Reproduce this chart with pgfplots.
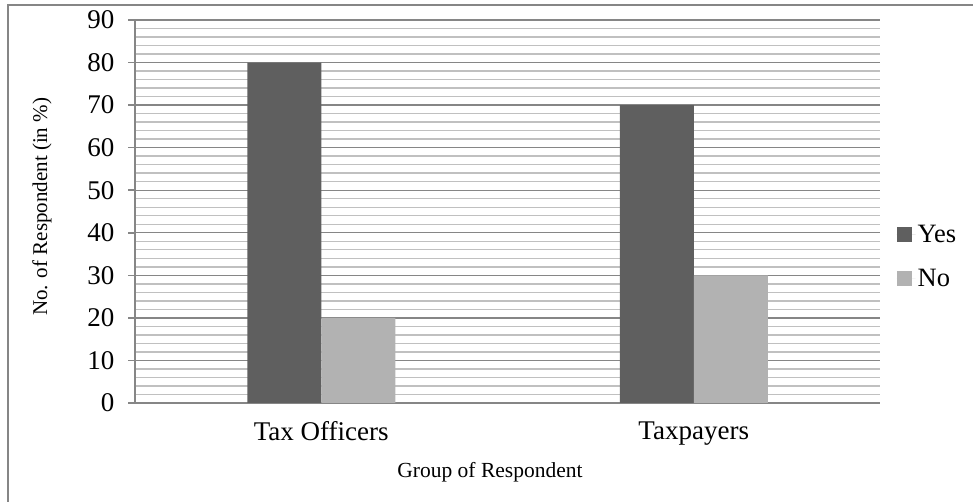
\documentclass[border=0pt]{standalone}
\usepackage{fontspec}
\setmainfont{Liberation Serif}
\usepackage{pgfplots}
\pgfplotsset{compat=1.18}
\definecolor{yescol}{HTML}{5F5F5F}
\definecolor{nocol}{HTML}{B2B2B2}
\definecolor{majgrid}{HTML}{868686}
\definecolor{mingrid}{HTML}{C0C0C0}
\begin{document}
\begin{tikzpicture}
\useasboundingbox (0,0) rectangle (973pt,502pt);
\draw[color=majgrid, line width=2pt] (8pt,0pt) -- (8pt,497pt) -- (973pt,497pt);
\begin{axis}[
  at={(135pt,99pt)}, anchor=south west,
  scale only axis, width=745pt, height=383pt,
  ybar=0pt, bar width=74pt,
  xmin=-0.5, xmax=1.5, ymin=0, ymax=90,
  xtick=data, xticklabels={Tax Officers, Taxpayers},
  ytick={0,10,...,90},
  minor y tick num=4,
  axis x line*=bottom, axis y line*=left,
  axis line style={majgrid, line width=1.5pt, -},
  ymajorgrids, yminorgrids,
  major grid style={majgrid, line width=1.4pt},
  minor grid style={mingrid, line width=1.4pt},
  xtick style={draw=none},
  ytick style={majgrid, line width=1.5pt},
  minor tick style={draw=none},
  tick align=outside, major tick length=7pt,
  /pgf/number format/assume math mode=true,
  tick label style={font=\fontsize{27}{31}\selectfont},
  yticklabel style={xshift=-10pt},
  xticklabel style={yshift=-8pt},
  xlabel={Group of Respondent},
  ylabel={No. of Respondent (in \%)},
  label style={font=\fontsize{21.5}{25}\selectfont},
  xlabel style={at={(axis description cs:0.4765,-0.18)}, anchor=center},
  ylabel style={at={(axis description cs:-0.1248,0.512)}, anchor=center, font=\fontsize{21}{25}\selectfont},
  legend style={draw=none, fill=none, at={(1.018,0.383)}, anchor=west,
    font=\fontsize{26.5}{30}\selectfont, row sep=21pt},
  legend cell align=left,
  legend image code/.code={\fill[#1] (0pt,-7.5pt) rectangle (15pt,7.5pt); \path (0pt,0pt) -- (19pt,0pt);},
]
\addplot[fill=yescol, draw=none] coordinates {(0,80) (1,70)};
\addplot[fill=nocol, draw=none] coordinates {(0,20) (1,30)};
\legend{Yes, No}
\end{axis}
\end{tikzpicture}
\end{document}
